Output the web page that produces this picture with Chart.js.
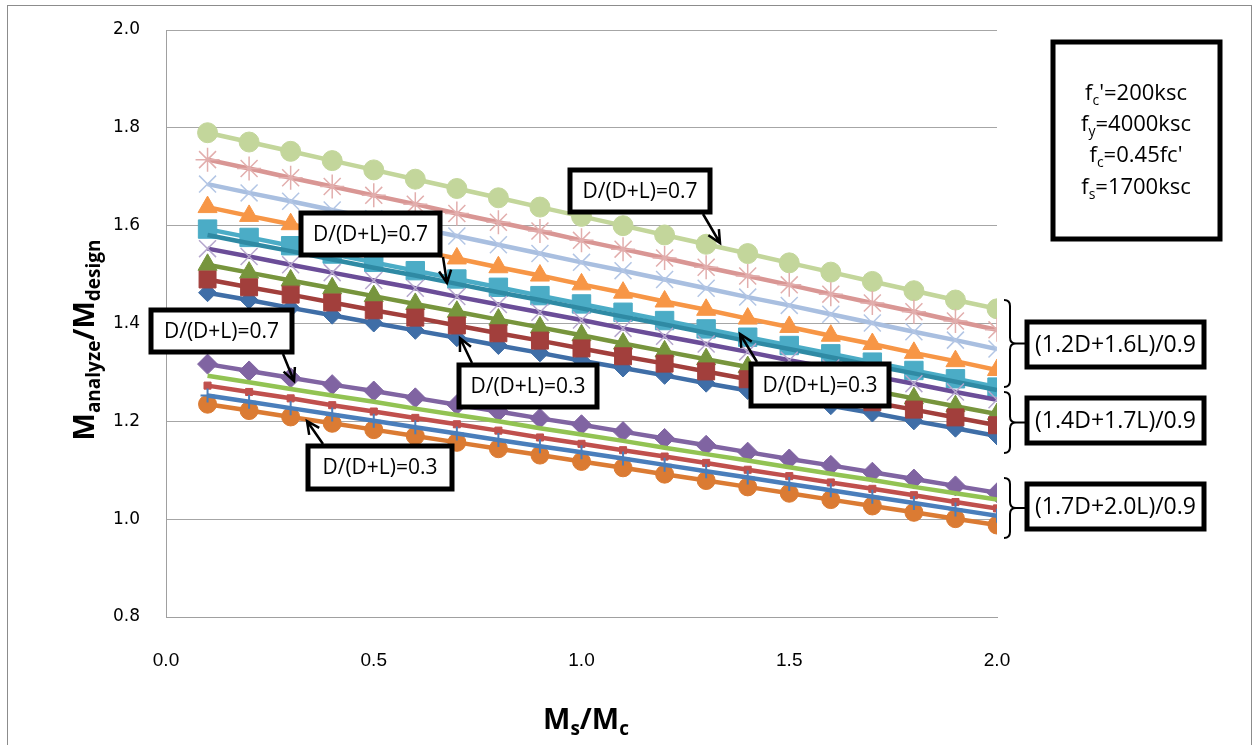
<!DOCTYPE html>
<html>
<head>
<meta charset="utf-8">
<script src="https://cdn.jsdelivr.net/npm/chart.js@4.4.1/dist/chart.umd.min.js"></script>
<style>
  body { margin: 0; background: #fff; }
  canvas { display: block; }
</style>
</head>
<body>
<canvas id="chart" width="1258" height="745"></canvas>
<script>
// x values (Ms/Mc)
const xValues = [0.1, 0.2, 0.3, 0.4, 0.5, 0.6, 0.7, 0.8, 0.9, 1.0, 1.1, 1.2, 1.3, 1.4, 1.5, 1.6, 1.7, 1.8, 1.9, 2.0];

// (1.2D+1.6L)/0.9, D/(D+L) = 0.3 ... 0.7
const g1_03 = [1.593, 1.576, 1.559, 1.542, 1.525, 1.508, 1.491, 1.474, 1.457, 1.440, 1.423, 1.406, 1.389, 1.372, 1.355, 1.338, 1.321, 1.304, 1.287, 1.270];
const g1_04 = [1.638, 1.620, 1.603, 1.585, 1.568, 1.550, 1.533, 1.515, 1.498, 1.480, 1.463, 1.445, 1.428, 1.410, 1.393, 1.375, 1.358, 1.340, 1.323, 1.305];
const g1_05 = [1.685, 1.667, 1.650, 1.632, 1.614, 1.596, 1.579, 1.561, 1.543, 1.525, 1.508, 1.490, 1.472, 1.454, 1.437, 1.419, 1.401, 1.383, 1.366, 1.348];
const g1_06 = [1.735, 1.717, 1.698, 1.680, 1.662, 1.644, 1.625, 1.607, 1.589, 1.570, 1.552, 1.534, 1.515, 1.497, 1.479, 1.460, 1.442, 1.424, 1.405, 1.387];
const g1_07 = [1.790, 1.771, 1.752, 1.733, 1.714, 1.695, 1.676, 1.657, 1.638, 1.619, 1.600, 1.581, 1.562, 1.543, 1.524, 1.505, 1.486, 1.467, 1.448, 1.430];

// (1.4D+1.7L)/0.9
const g2_03 = [1.463, 1.448, 1.432, 1.417, 1.401, 1.386, 1.371, 1.355, 1.340, 1.324, 1.309, 1.294, 1.278, 1.263, 1.247, 1.232, 1.217, 1.201, 1.186, 1.170];
const g2_04 = [1.490, 1.474, 1.459, 1.443, 1.427, 1.412, 1.396, 1.380, 1.365, 1.349, 1.333, 1.318, 1.302, 1.286, 1.271, 1.255, 1.239, 1.224, 1.208, 1.192];
const g2_05 = [1.520, 1.504, 1.488, 1.472, 1.456, 1.440, 1.424, 1.408, 1.392, 1.376, 1.359, 1.343, 1.327, 1.311, 1.295, 1.279, 1.263, 1.247, 1.231, 1.215];
const g2_06 = [1.553, 1.537, 1.520, 1.504, 1.488, 1.472, 1.455, 1.439, 1.423, 1.407, 1.390, 1.374, 1.358, 1.342, 1.325, 1.309, 1.293, 1.277, 1.260, 1.244];
const g2_07 = [1.581, 1.564, 1.548, 1.531, 1.514, 1.498, 1.481, 1.464, 1.448, 1.431, 1.414, 1.398, 1.381, 1.364, 1.348, 1.331, 1.314, 1.298, 1.281, 1.264];

// (1.7D+2.0L)/0.9
const g3_03 = [1.235, 1.222, 1.209, 1.196, 1.183, 1.170, 1.157, 1.144, 1.131, 1.118, 1.105, 1.092, 1.079, 1.066, 1.053, 1.040, 1.027, 1.014, 1.001, 0.988];
const g3_04 = [1.253, 1.240, 1.227, 1.214, 1.201, 1.188, 1.175, 1.162, 1.149, 1.137, 1.124, 1.111, 1.098, 1.085, 1.072, 1.059, 1.046, 1.033, 1.020, 1.007];
const g3_05 = [1.273, 1.260, 1.247, 1.233, 1.220, 1.207, 1.194, 1.181, 1.167, 1.154, 1.141, 1.128, 1.115, 1.101, 1.088, 1.075, 1.062, 1.049, 1.035, 1.022];
const g3_06 = [1.293, 1.280, 1.266, 1.253, 1.240, 1.226, 1.213, 1.200, 1.186, 1.173, 1.160, 1.146, 1.133, 1.120, 1.106, 1.093, 1.080, 1.066, 1.053, 1.040];
const g3_07 = [1.317, 1.303, 1.289, 1.275, 1.262, 1.248, 1.234, 1.220, 1.206, 1.193, 1.179, 1.165, 1.151, 1.137, 1.123, 1.110, 1.096, 1.082, 1.068, 1.054];

const groupLabels = ['(1.2D+1.6L)/0.9', '(1.4D+1.7L)/0.9', '(1.7D+2.0L)/0.9'];
const ratioLabels = ['D/(D+L)=0.3', 'D/(D+L)=0.7'];

const pts = arr => arr.map((y, i) => ({ x: xValues[i], y: y }));

function series(data, line, marker, style, radius, markerBorder) {
  return {
    data: pts(data),
    borderColor: line,
    borderWidth: 4.5,
    backgroundColor: marker,
    pointBackgroundColor: marker,
    pointBorderColor: marker,
    pointBorderWidth: markerBorder || 1,
    pointStyle: style,
    pointRadius: radius,
    tension: 0
  };
}

// dataset 0 is drawn on top
const datasets = [
  series(g3_04, '#4A7EBB', '#4A7EBB', 'cross', 7, 2),
  series(g3_03, '#DB7B33', '#DB7B33', 'circle', 9),
  series(g3_05, '#C0504D', '#C0504D', 'rect', 5),
  series(g3_06, '#92C353', '#92C353', 'circle', 0),
  series(g3_07, '#8064A2', '#8064A2', 'rectRot', 10),

  series(g2_04, '#A23F3C', '#A23F3C', 'rect', 12),
  series(g2_03, '#3F6EA7', '#3F6EA7', 'rectRot', 9),
  series(g2_05, '#77953D', '#77953D', 'triangle', 11),
  series(g2_06, '#6B4D98', '#B6A7CD', 'crossRot', 12, 1.5),
  series(g2_07, '#2F8AA4', '#2F8AA4', 'circle', 0),

  series(g1_03, '#4BACC6', '#4BACC6', 'rect', 13),
  series(g1_04, '#F79646', '#F79646', 'triangle', 11),
  series(g1_05, '#A9BFE0', '#B3C6E5', 'crossRot', 12, 1.5),
  series(g1_06, '#D99694', '#E2AEAD', 'star', 12, 1.5),
  series(g1_07, '#C3D69B', '#C3D69B', 'circle', 10)
];

const FONT = "'Open Sans', 'Noto Sans', sans-serif";

// text with subscripts, centred on cx
function drawRich(ctx, parts, cx, cy, size, weight) {
  const subSize = Math.round(size * 0.65);
  let total = 0;
  parts.forEach(p => {
    ctx.font = weight + ' ' + (p.sub ? subSize : size) + 'px ' + FONT;
    p.w = ctx.measureText(p.t).width;
    total += p.w;
  });
  let x = cx - total / 2;
  ctx.textAlign = 'left';
  ctx.textBaseline = 'alphabetic';
  parts.forEach(p => {
    ctx.font = weight + ' ' + (p.sub ? subSize : size) + 'px ' + FONT;
    ctx.fillText(p.t, x, cy + (p.sub ? size * 0.22 : 0));
    x += p.w;
  });
}

function box(ctx, x, y, w, h, lw) {
  ctx.save();
  ctx.fillStyle = '#fff';
  ctx.fillRect(x, y, w, h);
  ctx.lineWidth = lw;
  ctx.strokeStyle = '#000';
  ctx.strokeRect(x, y, w, h);
  ctx.restore();
}

function labelBox(ctx, text, x, y, w, h, size) {
  box(ctx, x, y, w, h, 5);
  ctx.fillStyle = '#000';
  ctx.font = size + 'px ' + FONT;
  ctx.textAlign = 'center';
  ctx.textBaseline = 'middle';
  ctx.fillText(text, x + w / 2, y + h / 2 + 1);
}

function arrow(ctx, x1, y1, x2, y2) {
  const a = Math.atan2(y2 - y1, x2 - x1);
  const len = 14;
  ctx.save();
  ctx.strokeStyle = '#000';
  ctx.lineWidth = 2.5;
  ctx.beginPath();
  ctx.moveTo(x1, y1);
  ctx.lineTo(x2, y2);
  ctx.moveTo(x2 - len * Math.cos(a - 0.45), y2 - len * Math.sin(a - 0.45));
  ctx.lineTo(x2, y2);
  ctx.lineTo(x2 - len * Math.cos(a + 0.45), y2 - len * Math.sin(a + 0.45));
  ctx.stroke();
  ctx.restore();
}

function brace(ctx, x, top, bottom) {
  const mid = (top + bottom) / 2;
  const r = 6;
  ctx.save();
  ctx.strokeStyle = '#000';
  ctx.lineWidth = 2;
  ctx.beginPath();
  ctx.moveTo(x - r, top);
  ctx.quadraticCurveTo(x, top, x, top + r);
  ctx.lineTo(x, mid - r);
  ctx.quadraticCurveTo(x, mid, x + r, mid);
  ctx.quadraticCurveTo(x, mid, x, mid + r);
  ctx.lineTo(x, bottom - r);
  ctx.quadraticCurveTo(x, bottom, x - r, bottom);
  ctx.moveTo(x + r, mid);
  ctx.lineTo(x + 17, mid);
  ctx.stroke();
  ctx.restore();
}

const decorations = {
  id: 'decorations',
  afterDraw(chart) {
    const ctx = chart.ctx;
    ctx.save();

    // outer frame
    ctx.strokeStyle = '#8c8c8c';
    ctx.lineWidth = 1;
    ctx.strokeRect(7.5, 5.5, 1244, 760);

    // D/(D+L) callouts
    labelBox(ctx, ratioLabels[1], 570, 170, 140, 42, 21);
    arrow(ctx, 703, 214, 720, 243);
    labelBox(ctx, ratioLabels[1], 301, 213, 139, 42, 21);
    arrow(ctx, 443, 257, 447, 283);
    labelBox(ctx, ratioLabels[0], 459, 365, 138, 42, 21);
    arrow(ctx, 472, 363, 460, 338);
    labelBox(ctx, ratioLabels[0], 751, 364, 138, 42, 21);
    arrow(ctx, 757, 362, 740, 334);
    labelBox(ctx, ratioLabels[1], 151, 310, 141, 42, 21);
    arrow(ctx, 283, 354, 294, 381);
    labelBox(ctx, ratioLabels[0], 308, 446, 144, 43, 21);
    arrow(ctx, 323, 444, 307, 421);

    // group braces and labels
    brace(ctx, 1010, 300, 387);
    brace(ctx, 1010, 392, 453);
    brace(ctx, 1010, 478, 538);
    labelBox(ctx, groupLabels[0], 1027, 322, 177, 45, 23);
    labelBox(ctx, groupLabels[1], 1027, 398, 177, 45, 23);
    labelBox(ctx, groupLabels[2], 1027, 484, 177, 45, 23);

    // material properties
    box(ctx, 1053, 42, 167, 197, 5);
    ctx.fillStyle = '#000';
    const cx = 1136;
    drawRich(ctx, [{ t: 'f' }, { t: 'c', sub: true }, { t: "'=200ksc" }], cx, 100, 22, 'normal');
    drawRich(ctx, [{ t: 'f' }, { t: 'y', sub: true }, { t: '=4000ksc' }], cx, 131, 22, 'normal');
    drawRich(ctx, [{ t: 'f' }, { t: 'c', sub: true }, { t: "=0.45fc'" }], cx, 162, 22, 'normal');
    drawRich(ctx, [{ t: 'f' }, { t: 's', sub: true }, { t: '=1700ksc' }], cx, 194, 22, 'normal');

    // axis titles
    drawRich(ctx, [{ t: 'M' }, { t: 's', sub: true }, { t: '/M' }, { t: 'c', sub: true }], 586, 729, 29, 'bold');
    ctx.translate(94, 340);
    ctx.rotate(-Math.PI / 2);
    drawRich(ctx, [{ t: 'M' }, { t: 'analyze', sub: true }, { t: '/M' }, { t: 'design', sub: true }], 0, 0, 29, 'bold');

    ctx.restore();
  }
};

new Chart(document.getElementById('chart'), {
  type: 'line',
  data: { datasets: datasets },
  options: {
    responsive: false,
    animation: false,
    layout: { autoPadding: false, padding: { left: 0, right: 261, top: 30, bottom: 0 } },
    plugins: { legend: { display: false }, tooltip: { enabled: false } },
    scales: {
      x: {
        type: 'linear',
        min: 0,
        max: 2,
        ticks: {
          stepSize: 0.5,
          callback: v => v.toFixed(1),
          padding: 32,
          color: '#000',
          font: { family: "'Liberation Sans', sans-serif", size: 19 }
        },
        grid: { display: false, drawTicks: false },
        border: { display: true, color: '#a0a0a0', width: 1 },
        afterFit: s => { s.height = 128; }
      },
      y: {
        min: 0.8,
        max: 2.0,
        ticks: {
          stepSize: 0.2,
          callback: v => v.toFixed(1),
          padding: 26,
          color: '#000',
          font: { family: "'DejaVu Sans', sans-serif", size: 17 }
        },
        grid: { color: '#a6a6a6', lineWidth: 1, drawTicks: false },
        border: { display: true, color: '#a0a0a0', width: 1 },
        afterFit: s => { s.width = 166; s.paddingTop = 0; s.paddingBottom = 0; }
      }
    }
  },
  plugins: [decorations]
});
</script>
</body>
</html>
